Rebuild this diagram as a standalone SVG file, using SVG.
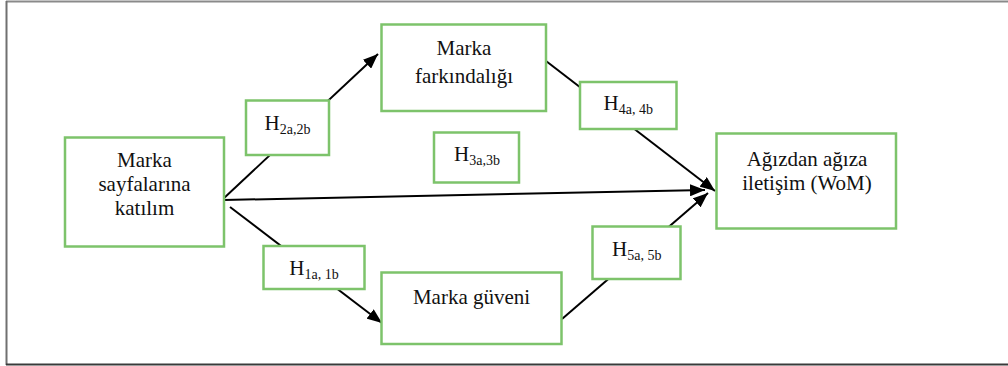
<svg xmlns="http://www.w3.org/2000/svg" width="1008" height="366" viewBox="0 0 1008 366">
  <style>
    .node { fill: #ffffff; stroke: #7dc36b; stroke-width: 2.5; }
    .label { font-family: 'Liberation Serif', 'Times New Roman', Times, 'DejaVu Serif', serif; font-size: 21px; fill: #111111; text-anchor: middle; }
    .sub { font-size: 14px; }
    .edge { stroke: #000000; stroke-width: 2; fill: none; marker-end: url(#arrow); }
  </style>
  <defs>
    <marker id="arrow" markerUnits="userSpaceOnUse" markerWidth="16" markerHeight="12" refX="15" refY="6" orient="auto">
      <path d="M0,0 L15,6 L0,12 z" fill="#000000"/>
    </marker>
  </defs>

  <rect width="1008" height="366" fill="#ffffff"/>

  <!-- page frame -->
  <g id="frame" fill="none">
    <line x1="6" y1="1.5" x2="1008" y2="1.5" stroke="#8a8a8a" stroke-width="2"/>
    <line x1="6.5" y1="1" x2="6.5" y2="365" stroke="#707070" stroke-width="2"/>
    <line x1="6" y1="364.5" x2="1008" y2="364.5" stroke="#3a3a3a" stroke-width="2"/>
  </g>

  <!-- connectors -->
  <g id="connectors">
    <line class="edge" x1="223" y1="199" x2="378" y2="54"/>
    <line class="edge" x1="224" y1="200" x2="705" y2="190" stroke-width="3"/>
    <line class="edge" x1="230" y1="207" x2="382" y2="323"/>
    <line class="edge" x1="546" y1="61" x2="715" y2="191"/>
    <line class="edge" x1="562" y1="319" x2="708" y2="193"/>
  </g>

  <g id="katilim">
    <rect class="node" x="65" y="137.5" width="159" height="109"/>
    <text class="label" x="144.5" y="166.5">Marka</text>
    <text class="label" x="144.5" y="191">sayfalarına</text>
    <text class="label" x="144.5" y="215">katılım</text>
  </g>

  <g id="farkindalik">
    <rect class="node" x="381.5" y="24.5" width="164.5" height="86.5"/>
    <text class="label" x="464" y="54.5">Marka</text>
    <text class="label" x="464" y="82.5">farkındalığı</text>
  </g>

  <g id="guven">
    <rect class="node" x="381.5" y="272.5" width="180" height="71.5"/>
    <text class="label" x="471.5" y="303.5">Marka güveni</text>
  </g>

  <g id="wom">
    <rect class="node" x="716.5" y="133.5" width="179.5" height="95"/>
    <text class="label" x="807" y="166">Ağızdan ağıza</text>
    <text class="label" x="807" y="190">iletişim (WoM)</text>
  </g>

  <g id="h2">
    <rect class="node" x="246" y="100.5" width="83" height="54.5"/>
    <text class="label" x="287.5" y="130">H<tspan class="sub" dy="3.5">2a,2b</tspan></text>
  </g>

  <g id="h3">
    <rect class="node" x="434" y="132.5" width="85" height="50"/>
    <text class="label" x="477" y="161">H<tspan class="sub" dy="3.5">3a,3b</tspan></text>
  </g>

  <g id="h4">
    <rect class="node" x="580" y="82" width="96.5" height="47"/>
    <text class="label" x="628.3" y="110">H<tspan class="sub" dy="3.5">4a, 4b</tspan></text>
  </g>

  <g id="h5">
    <rect class="node" x="592.5" y="226.5" width="88" height="52.5"/>
    <text class="label" x="636.7" y="256">H<tspan class="sub" dy="3.5">5a, 5b</tspan></text>
  </g>

  <g id="h1">
    <rect class="node" x="263.5" y="246" width="101" height="43"/>
    <text class="label" x="314" y="275">H<tspan class="sub" dy="3.5">1a, 1b</tspan></text>
  </g>
</svg>
